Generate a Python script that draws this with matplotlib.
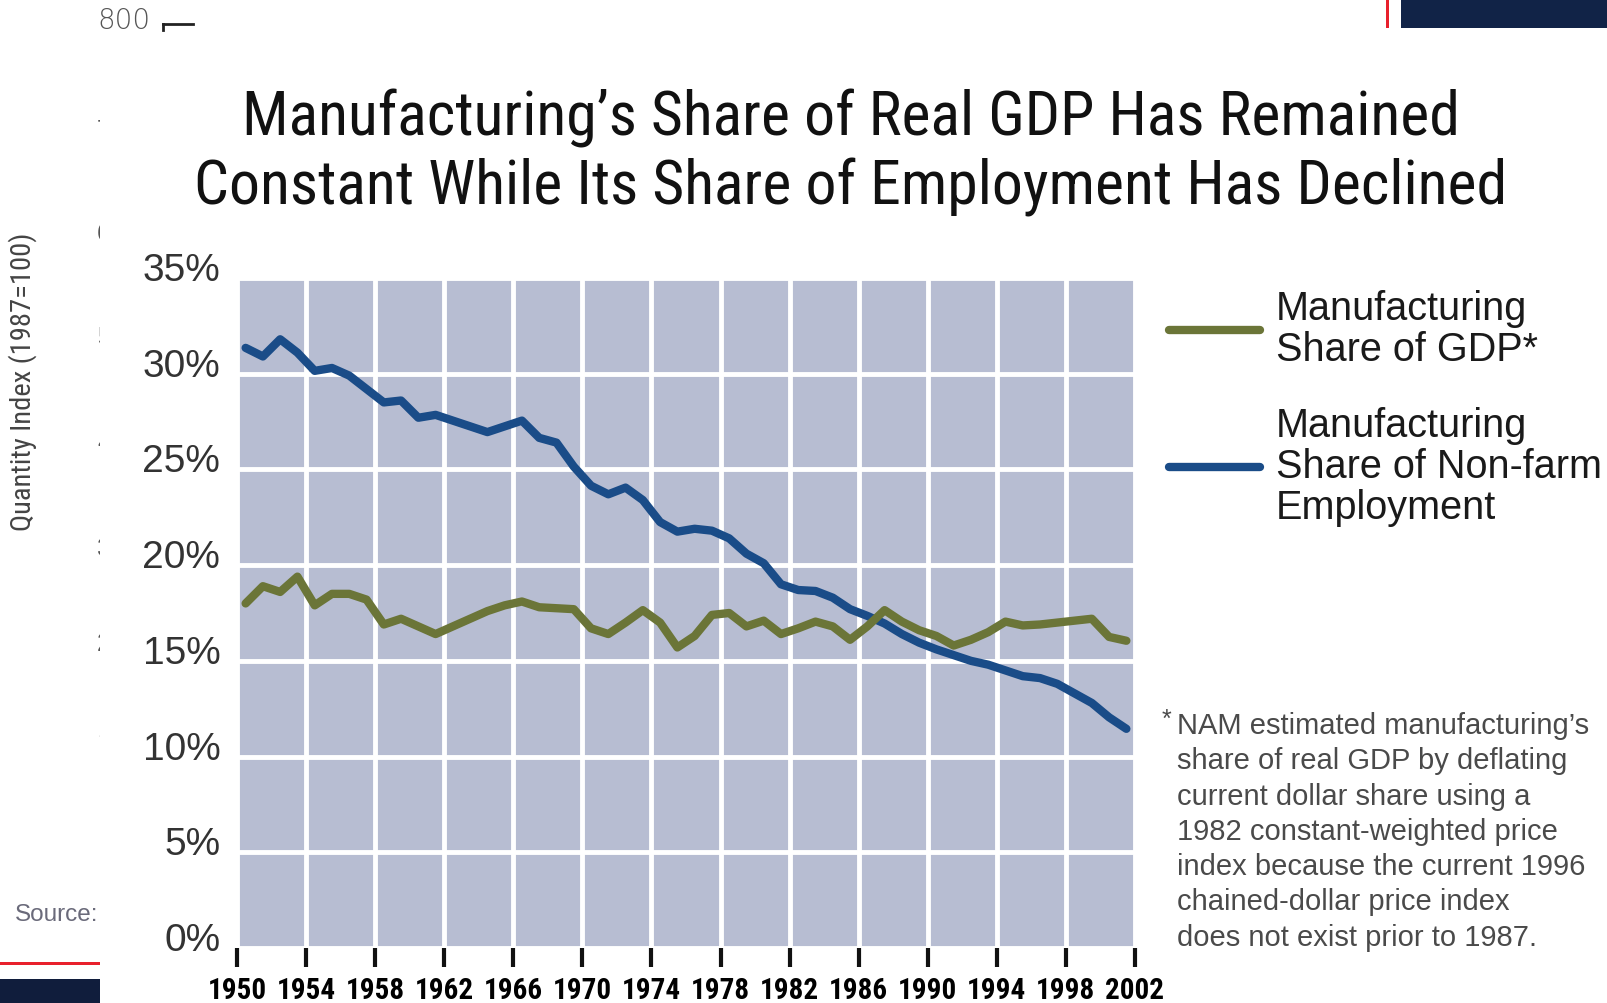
import numpy as np
import matplotlib
matplotlib.use("Agg")
from matplotlib import pyplot as plt
from matplotlib import font_manager
from matplotlib.patches import Rectangle
from matplotlib.lines import Line2D
from matplotlib.transforms import ScaledTranslation

# annual values, 1950-2001, plotted at mid-year
years = np.arange(1950, 2002)
employment_share = [31.35, 30.9, 31.8, 31.1, 30.15, 30.3, 29.9, 29.2, 28.5, 28.6,
                    27.7, 27.85, 27.55, 27.25, 26.95, 27.25, 27.55, 26.65, 26.4, 25.15,
                    24.15, 23.7, 24.05, 23.4, 22.25, 21.75, 21.9, 21.8, 21.4, 20.6,
                    20.1, 19.0, 18.7, 18.65, 18.3, 17.7, 17.35, 16.95, 16.4, 15.95,
                    15.6, 15.3, 15.0, 14.8, 14.5, 14.2, 14.1, 13.8, 13.3, 12.8,
                    12.05, 11.45]
gdp_share = [18.0, 18.9, 18.6, 19.4, 17.9, 18.5, 18.5, 18.2, 16.9, 17.2,
             16.8, 16.4, 16.8, 17.2, 17.6, 17.9, 18.1, 17.8, 17.75, 17.7,
             16.7, 16.4, 17.0, 17.65, 17.0, 15.7, 16.3, 17.4, 17.5, 16.8,
             17.1, 16.4, 16.7, 17.05, 16.8, 16.1, 16.8, 17.65, 17.05, 16.6,
             16.3, 15.8, 16.1, 16.5, 17.05, 16.85, 16.9, 17.0, 17.1, 17.2,
             16.25, 16.05]
year_ticks = list(range(1950, 2003, 4))
pct_ticks = list(range(0, 36, 5))

title = ("Manufacturing\u2019s Share of Real GDP Has Remained\n"
         "Constant While Its Share of Employment Has Declined")
labels = ["Manufacturing\nShare of GDP*",
          "Manufacturing\nShare of Non-farm\nEmployment"]
footnote = ("NAM estimated manufacturing\u2019s\nshare of real GDP by deflating\n"
            "current dollar share using a\n1982 constant-weighted price\n"
            "index because the current 1996\nchained-dollar price index\n"
            "does not exist prior to 1987.")

installed = {f.name for f in font_manager.fontManager.ttflist}
narrow = "Liberation Sans"
for cand in ["Roboto Condensed", "Liberation Sans Narrow", "Arial Narrow"]:
    if cand in installed:
        narrow = cand
        break
is_narrow = narrow != "Liberation Sans"
plt.rcParams["font.family"] = ["Liberation Sans", "DejaVu Sans"]

fig = plt.figure(figsize=(16.08, 10.04), dpi=100)
W, H = 1608.0, 1004.0

# leftovers of the slide underneath the pasted chart
for lab, y in zip(["7", "6", "5", "4", "3", "2", "1"],
                  [131, 234, 338, 443, 549, 644, 730]):
    fig.text(97 / W, 1 - y / H, lab, fontsize=18, color="#555555", va="center", zorder=-3)
fig.text(97 / W, 1 - 21 / H, "800", fontsize=20, color="#555555", va="center",
         family="DejaVu Sans", fontweight="light")
fig.add_artist(Line2D([163 / W, 193 / W], [1 - 25 / H, 1 - 25 / H], color="#222222", lw=2))
fig.add_artist(Line2D([163 / W, 163 / W], [1 - 25 / H, 1 - 31 / H], color="#222222", lw=2))
fig.text(23 / W, 1 - 382 / H, "Quantity Index (1987=100)", rotation=90, fontsize=20.5,
         family=narrow, color="#444444", ha="center", va="center", zorder=-3)
fig.text(15 / W, 1 - 915 / H, "Source:", fontsize=17.5, color="#6a6a7a", va="center", zorder=-3)
fig.add_artist(Rectangle((100 / W, 0), 1 - 100 / W, 1 - 40 / H, transform=fig.transFigure,
                         facecolor="white", edgecolor="none", zorder=-2))
fig.add_artist(Rectangle((0, 1 - 966 / H), 100 / W, 3 / H, transform=fig.transFigure,
                         facecolor="#e8202c", edgecolor="none"))
fig.add_artist(Rectangle((0, 0), 100 / W, 24 / H, transform=fig.transFigure,
                         facecolor="#101d3c", edgecolor="none"))
fig.add_artist(Rectangle((1386 / W, 1 - 29 / H), 3 / W, 29 / H, transform=fig.transFigure,
                         facecolor="#e8202c", edgecolor="none"))
fig.add_artist(Rectangle((1401 / W, 1 - 29 / H), 1 - 1401 / W, 29 / H, transform=fig.transFigure,
                         facecolor="#112347", edgecolor="none"))

# the chart itself
ax = fig.add_axes([237 / W, 55 / H, (1135 - 237) / W, (949 - 279) / H])
ax.set_facecolor("#b7bdd2")
blue, = ax.plot(years + 0.5, employment_share, color="#1a4c88", lw=6,
                solid_joinstyle="round", solid_capstyle="round", zorder=3)
olive, = ax.plot(years + 0.5, gdp_share, color="#6b7538", lw=6,
                 solid_joinstyle="round", solid_capstyle="round", zorder=4)
ax.set_xlim(1950, 2002)
ax.set_ylim(0, 35)
ax.set_xticks(year_ticks)
ax.set_yticks(pct_ticks)
ax.set_yticklabels([f"{p}%" for p in pct_ticks])
ax.grid(color="white", lw=3.5)
ax.set_axisbelow(True)
for s in ax.spines.values():
    s.set_visible(False)
ax.tick_params(axis="y", length=0, pad=12, labelsize=28, labelcolor="#333333")
ax.tick_params(axis="x", length=14, width=3, color="#111111", pad=6,
               labelsize=21 if is_narrow else 17.5)
lift = ScaledTranslation(0, 0.12, fig.dpi_scale_trans)
for t in ax.get_yticklabels():
    t.set_transform(t.get_transform() + lift)
for t in ax.get_xticklabels():
    t.set_fontweight("bold")
    t.set_family(narrow)

fig.text(0.529, 1 - 153 / H, title, ha="center", va="center",
         fontsize=44.5 if is_narrow else 39, family=narrow, color="#111111",
         linespacing=1.22 if is_narrow else 1.42)

leg = ax.legend([olive, blue], labels, loc="upper left",
                bbox_to_anchor=(1169 / W, 1 - 290 / H), bbox_transform=fig.transFigure,
                frameon=False, fontsize=28.5, handlelength=2.3, handletextpad=0.4,
                labelspacing=0.95, borderpad=0, borderaxespad=0)
for t in leg.get_texts():
    t.set_linespacing(1.1)
    t.set_color("#1a1a1a")
for h in leg.get_lines():
    h.set_linewidth(6)

fig.text(1162 / W, 1 - 720 / H, "*", fontsize=18, color="#4a4a4a", va="center")
fig.text(1177 / W, 1 - 712 / H, footnote, fontsize=21, color="#4a4a4a",
         va="top", ha="left", linespacing=1.33)

fig.savefig("out.png", dpi=100)
